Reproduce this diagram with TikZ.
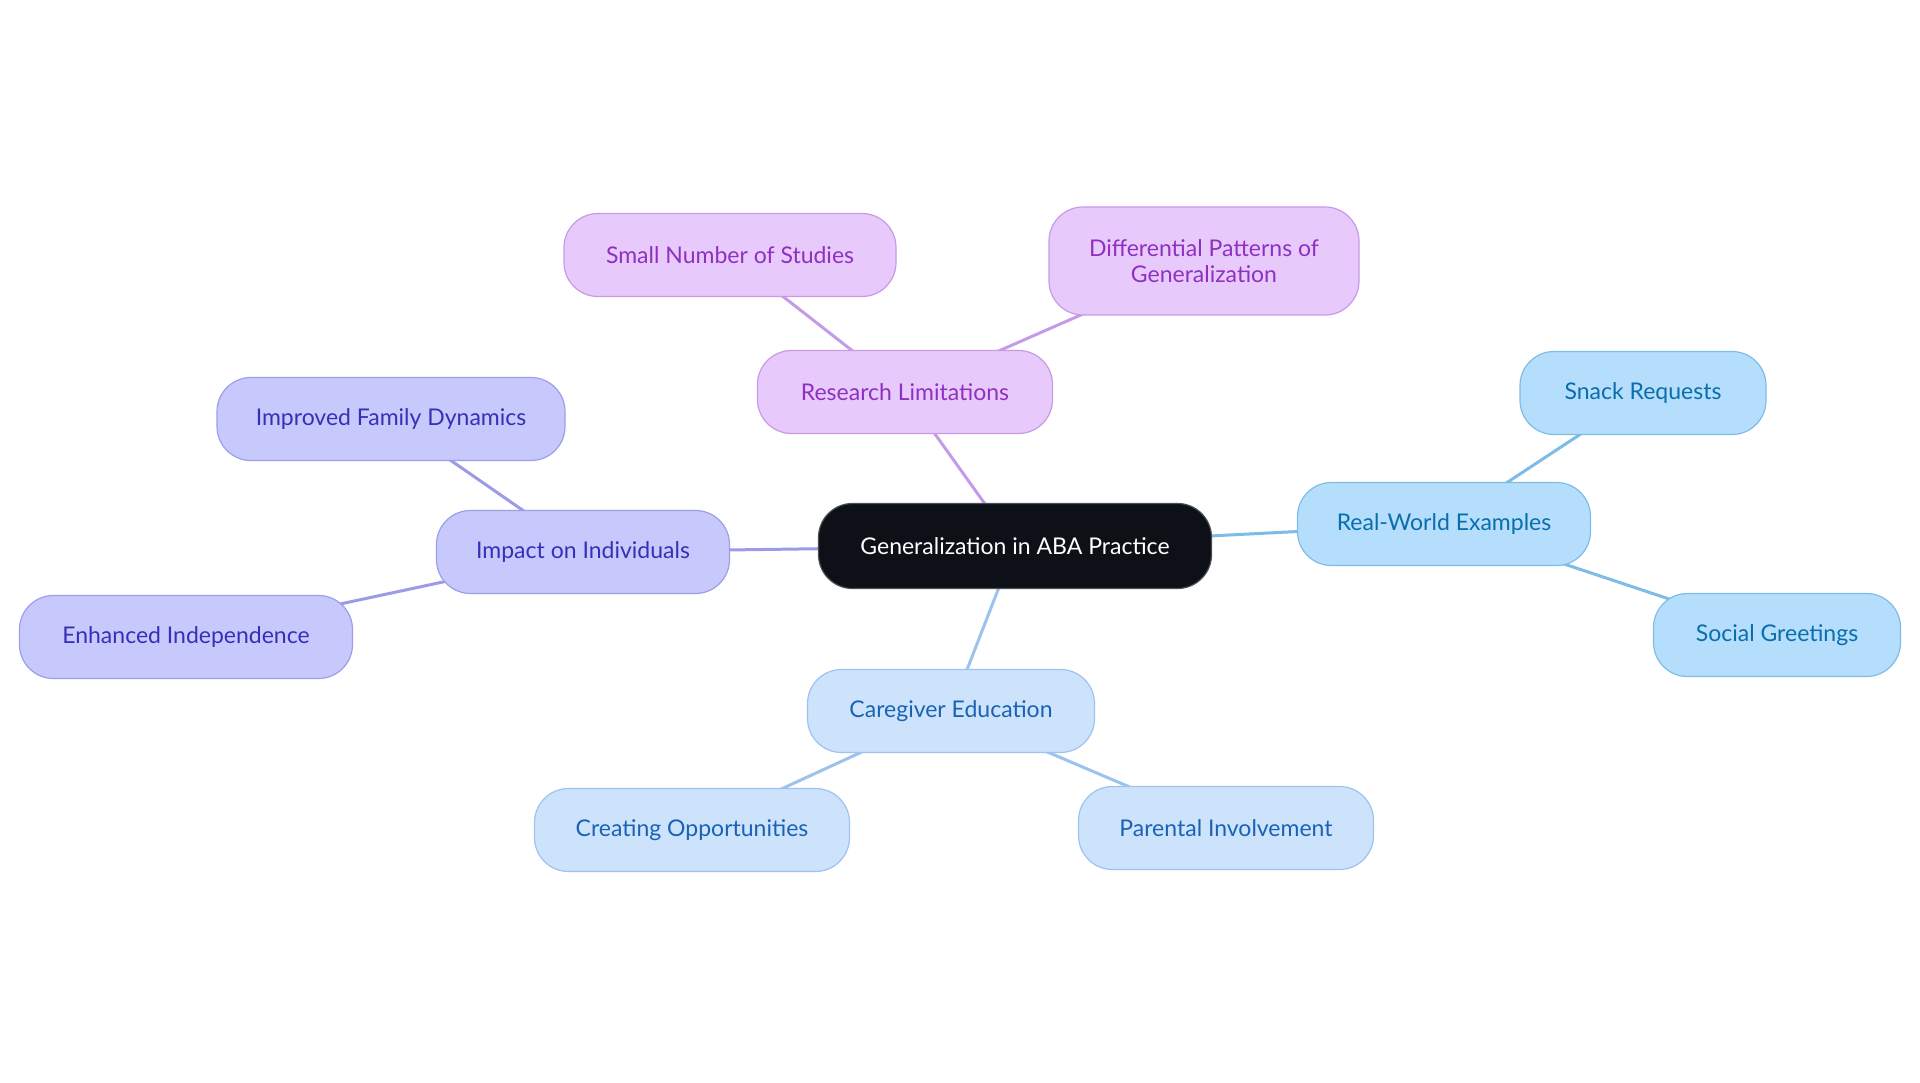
\documentclass[tikz,border=0pt]{standalone}
\usepackage{fontspec}
\setmainfont{Lato}
\usetikzlibrary{backgrounds}
\definecolor{cdark}{HTML}{0D1117}
\definecolor{cdarkb}{HTML}{4A4F55}
\definecolor{pfill}{HTML}{E8C9FC}
\definecolor{pbord}{HTML}{C89AE6}
\definecolor{ptext}{HTML}{8E30C0}
\definecolor{pline}{HTML}{C49BE8}
\definecolor{vfill}{HTML}{C7C9FC}
\definecolor{vbord}{HTML}{9C9EEA}
\definecolor{vtext}{HTML}{3530B8}
\definecolor{vline}{HTML}{9C9CE6}
\definecolor{bfill}{HTML}{B4DEFC}
\definecolor{bbord}{HTML}{7FBDE8}
\definecolor{btext}{HTML}{0A6EAE}
\definecolor{bline}{HTML}{7CBCE6}
\definecolor{cfill}{HTML}{CDE3FC}
\definecolor{cbord}{HTML}{9DC3EE}
\definecolor{ctext}{HTML}{1A62B6}
\definecolor{cline}{HTML}{9DC2EC}
\tikzset{
  box/.style={rounded corners=34pt, line width=1.2pt, inner sep=0pt, align=center,
    font=\fontsize{23}{26}\selectfont, minimum height=83pt},
  rootbox/.style={box, fill=cdark, draw=cdarkb, text=white},
  pbox/.style={box, fill=pfill, draw=pbord, text=ptext},
  vbox/.style={box, fill=vfill, draw=vbord, text=vtext},
  bbox/.style={box, fill=bfill, draw=bbord, text=btext},
  cbox/.style={box, fill=cfill, draw=cbord, text=ctext},
  link/.style={line width=3pt}
}
\begin{document}
\begin{tikzpicture}[x=1pt,y=-1pt]
\useasboundingbox (0,0) rectangle (1920,1083);
\node[rootbox, minimum width=393pt, minimum height=85pt] (root) at (1015,546) {Generalization in ABA Practice};
\node[pbox, minimum width=295pt] (res) at (905,392) {Research Limitations};
\node[pbox, minimum width=332pt] (small) at (730,255) {Small Number of Studies};
\node[pbox, minimum width=310pt, minimum height=108pt] (diff) at (1204,261) {Differential Patterns of\\Generalization};
\node[vbox, minimum width=293pt] (imp) at (583,552) {Impact on Individuals};
\node[vbox, minimum width=348pt] (fam) at (391,419) {Improved Family Dynamics};
\node[vbox, minimum width=333pt] (ind) at (186,637) {Enhanced Independence};
\node[bbox, minimum width=293pt] (real) at (1444,524) {Real-World Examples};
\node[bbox, minimum width=246pt] (snack) at (1643,393) {Snack Requests};
\node[bbox, minimum width=247pt] (soc) at (1777,635) {Social Greetings};
\node[cbox, minimum width=287pt] (care) at (951,711) {Caregiver Education};
\node[cbox, minimum width=315pt] (crea) at (692,830) {Creating Opportunities};
\node[cbox, minimum width=295pt] (par) at (1226,828) {Parental Involvement};
\begin{scope}[on background layer]
\draw[link, pline] (root.center) -- (res.center);
\draw[link, pline] (res.center) -- (small.center);
\draw[link, pline] (res.center) -- (diff.center);
\draw[link, vline] (root.center) -- (imp.center);
\draw[link, vline] (imp.center) -- (fam.center);
\draw[link, vline] (imp.center) -- (ind.center);
\draw[link, bline] (root.center) -- (real.center);
\draw[link, bline] (real.center) -- (snack.center);
\draw[link, bline] (real.center) -- (soc.center);
\draw[link, cline] (root.center) -- (care.center);
\draw[link, cline] (care.center) -- (crea.center);
\draw[link, cline] (care.center) -- (par.center);
\end{scope}
\end{tikzpicture}
\end{document}
